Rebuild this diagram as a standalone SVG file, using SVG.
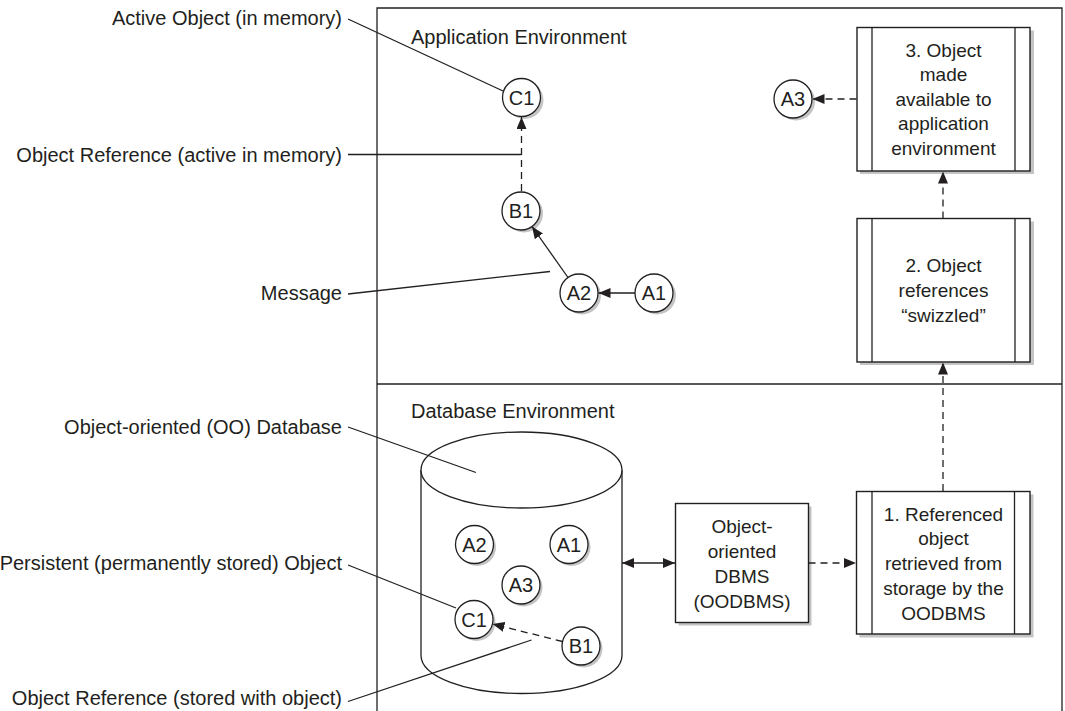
<svg xmlns="http://www.w3.org/2000/svg" width="1065" height="711" viewBox="0 0 1065 711">
<defs>
<style>
.ln{stroke:#231f20;stroke-width:1.3;fill:none}
.dash{stroke:#231f20;stroke-width:1.3;fill:none;stroke-dasharray:7 5}
.lbl{font-family:"Liberation Sans",Arial,sans-serif;font-size:20px;fill:#231f20}
.env{font-family:"Liberation Sans",Arial,sans-serif;font-size:20px;fill:#231f20}
.bx{font-family:"Liberation Sans",Arial,sans-serif;font-size:19px;fill:#231f20;text-anchor:middle}
.nd{font-family:"Liberation Sans",Arial,sans-serif;font-size:20px;fill:#231f20;text-anchor:middle}
.circ{fill:#fff;stroke:#231f20;stroke-width:1.3}
.sh{fill:#c4c4c4}
.box{fill:#fff;stroke:#231f20;stroke-width:1.4}
</style>
<marker id="ah" viewBox="0 0 12 10" refX="12" refY="5" markerWidth="12" markerHeight="10" markerUnits="userSpaceOnUse" orient="auto-start-reverse">
<path d="M0,0 L12,5 L0,10 z" fill="#231f20"/>
</marker>
</defs>
<rect width="1065" height="711" fill="#fff"/>

<g id="frame">
<path class="ln" d="M377,711 L377,8 L1062,8 L1062,711"/>
<line class="ln" x1="377" y1="384" x2="1062" y2="384"/>
<text class="env" x="411" y="44">Application Environment</text>
<text class="env" x="411" y="418">Database Environment</text>
</g>

<g id="database">
<path d="M421,470 L421,655.5 A100.5,38 0 0 0 622,655.5 L622,470" fill="#fff" stroke="#231f20" stroke-width="1.3"/>
<ellipse cx="521.5" cy="470" rx="100.5" ry="38" fill="#fff" stroke="#231f20" stroke-width="1.3"/>
</g>

<g id="node-C1-app"><circle class="sh" cx="524.5" cy="100" r="19"/><circle class="circ" cx="521.5" cy="97.5" r="19"/><text class="nd" x="521.5" y="104.5">C1</text></g>
<g id="node-B1-app"><circle class="sh" cx="524" cy="213.5" r="19"/><circle class="circ" cx="521" cy="211" r="19"/><text class="nd" x="521" y="218">B1</text></g>
<g id="node-A2-app"><circle class="sh" cx="582" cy="295.5" r="19"/><circle class="circ" cx="579" cy="293" r="19"/><text class="nd" x="579" y="300">A2</text></g>
<g id="node-A1-app"><circle class="sh" cx="657" cy="295.5" r="19"/><circle class="circ" cx="654" cy="293" r="19"/><text class="nd" x="654" y="300">A1</text></g>
<g id="node-A3-app"><circle class="sh" cx="796" cy="101.5" r="19"/><circle class="circ" cx="793" cy="99" r="19"/><text class="nd" x="793" y="106">A3</text></g>

<g id="node-A2-db"><circle class="sh" cx="477" cy="547" r="19"/><circle class="circ" cx="474.5" cy="544.5" r="19"/><text class="nd" x="474.5" y="551.5">A2</text></g>
<g id="node-A1-db"><circle class="sh" cx="571.5" cy="547" r="19"/><circle class="circ" cx="569" cy="544.5" r="19"/><text class="nd" x="569" y="551.5">A1</text></g>
<g id="node-A3-db"><circle class="sh" cx="523.5" cy="587.5" r="19"/><circle class="circ" cx="521" cy="585" r="19"/><text class="nd" x="521" y="592">A3</text></g>
<g id="node-C1-db"><circle class="sh" cx="476.5" cy="622" r="19"/><circle class="circ" cx="474" cy="619.5" r="19"/><text class="nd" x="474" y="626.5">C1</text></g>
<g id="node-B1-db"><circle class="sh" cx="583.5" cy="648.5" r="19"/><circle class="circ" cx="581" cy="646" r="19"/><text class="nd" x="581" y="653">B1</text></g>

<g id="box3">
<rect class="sh" x="860" y="30.5" width="174" height="143.5"/>
<rect class="box" x="857" y="27.5" width="173" height="143.5"/>
<line class="ln" x1="872" y1="27.5" x2="872" y2="171"/>
<line class="ln" x1="1015" y1="27.5" x2="1015" y2="171"/>
<text class="bx" x="943.5" y="57">3. Object</text>
<text class="bx" x="943.5" y="81">made</text>
<text class="bx" x="943.5" y="105.5">available to</text>
<text class="bx" x="943.5" y="130">application</text>
<text class="bx" x="943.5" y="154.5">environment</text>
</g>

<g id="box2">
<rect class="sh" x="860" y="221.5" width="174" height="143.5"/>
<rect class="box" x="857" y="218.5" width="173" height="143.5"/>
<line class="ln" x1="872" y1="218.5" x2="872" y2="362"/>
<line class="ln" x1="1015" y1="218.5" x2="1015" y2="362"/>
<text class="bx" x="943.5" y="272">2. Object</text>
<text class="bx" x="943.5" y="297">references</text>
<text class="bx" x="943.5" y="322">“swizzled”</text>
</g>

<g id="box1">
<rect class="sh" x="859.5" y="494.5" width="174" height="143"/>
<rect class="box" x="856.5" y="491.5" width="173.5" height="142.5"/>
<line class="ln" x1="872" y1="491.5" x2="872" y2="634"/>
<line class="ln" x1="1014.5" y1="491.5" x2="1014.5" y2="634"/>
<text class="bx" x="943.5" y="520.5">1. Referenced</text>
<text class="bx" x="943.5" y="545">object</text>
<text class="bx" x="943.5" y="570">retrieved from</text>
<text class="bx" x="943.5" y="595">storage by the</text>
<text class="bx" x="943.5" y="620">OODBMS</text>
</g>

<g id="dbms">
<rect class="sh" x="678.5" y="506.5" width="133" height="119"/>
<rect class="box" x="675.5" y="503.5" width="133" height="119"/>
<text class="bx" x="742" y="533">Object-</text>
<text class="bx" x="742" y="558">oriented</text>
<text class="bx" x="742" y="583">DBMS</text>
<text class="bx" x="742" y="608">(OODBMS)</text>
</g>

<g id="connectors">
<line class="dash" x1="521.5" y1="191" x2="521.5" y2="117" marker-end="url(#ah)"/>
<line class="ln" x1="568" y1="277.5" x2="532" y2="226.5" marker-end="url(#ah)"/>
<line class="ln" x1="635" y1="293" x2="598.5" y2="293" marker-end="url(#ah)"/>
<line class="dash" x1="856.5" y1="99" x2="812.5" y2="99" marker-end="url(#ah)"/>
<line class="dash" x1="943" y1="218.5" x2="943" y2="171.5" marker-end="url(#ah)"/>
<line class="dash" x1="943" y1="491" x2="943" y2="362.5" marker-end="url(#ah)"/>
<line class="ln" x1="622" y1="563" x2="675" y2="563" marker-start="url(#ah)" marker-end="url(#ah)"/>
<line class="dash" x1="808.5" y1="563" x2="856" y2="563" marker-end="url(#ah)"/>
<line class="dash" x1="562.5" y1="641.5" x2="492.5" y2="624" marker-end="url(#ah)"/>
</g>

<g id="labels">
<text class="lbl" x="342" y="25" text-anchor="end">Active Object (in memory)</text>
<line class="ln" x1="348" y1="19" x2="503" y2="91"/>
<text class="lbl" x="342" y="161.5" text-anchor="end">Object Reference (active in memory)</text>
<line class="ln" x1="348" y1="154.5" x2="521.5" y2="154.5"/>
<text class="lbl" x="342" y="300" text-anchor="end">Message</text>
<line class="ln" x1="348" y1="294" x2="550" y2="271.5"/>
<text class="lbl" x="342" y="433.5" text-anchor="end">Object-oriented (OO) Database</text>
<line class="ln" x1="348" y1="427" x2="476" y2="472.5"/>
<text class="lbl" x="342" y="570" text-anchor="end">Persistent (permanently stored) Object</text>
<line class="ln" x1="348" y1="565" x2="456" y2="608"/>
<text class="lbl" x="342" y="705" text-anchor="end">Object Reference (stored with object)</text>
<line class="ln" x1="348" y1="701.5" x2="531.5" y2="640"/>
</g>
</svg>
